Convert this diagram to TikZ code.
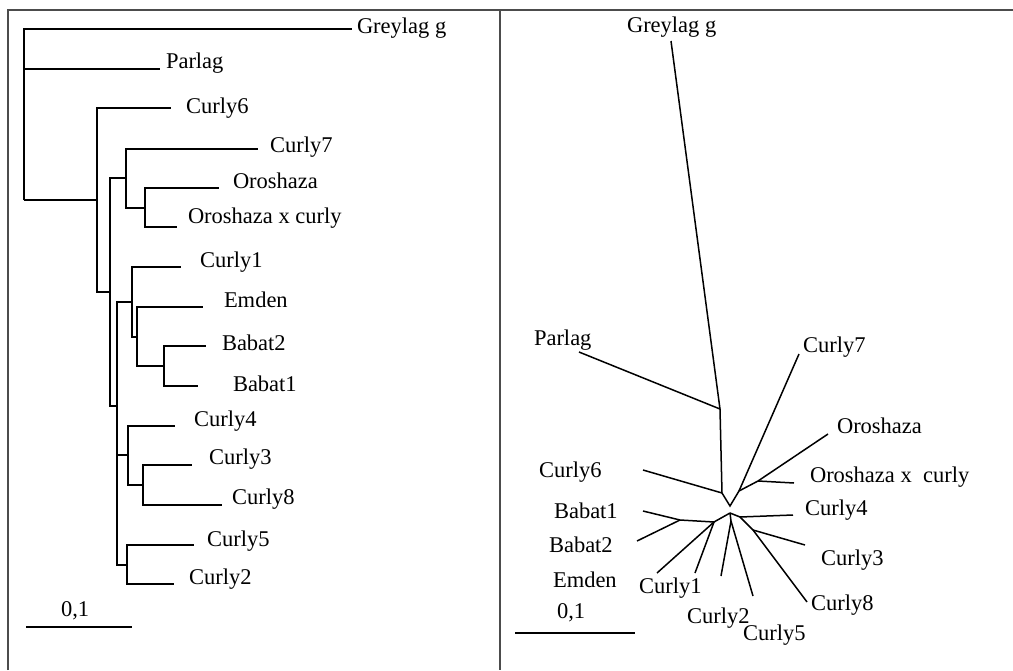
\documentclass[tikz,border=0pt]{standalone}
\usepackage{fontspec}
\setmainfont{Liberation Serif}
\begin{document}
\begin{tikzpicture}[x=1pt,y=-1pt,
  br/.style={line width=1.5pt, black, line join=miter},
  frm/.style={line width=1.8pt, draw=black!70},
  lab/.style={anchor=base west, inner sep=0pt, outer sep=0pt, font=\fontsize{22.5}{27}\selectfont}]
\useasboundingbox (0,0) rectangle (1013,670);
% frame
\coordinate (fbl) at (8,670); \coordinate (ftl) at (8,10); \coordinate (ftr) at (1013,10);
\coordinate (dtop) at (500,10); \coordinate (dbot) at (500,670);
\draw[frm] (fbl) -- (ftl) -- (ftr);
\draw[frm] (dtop) -- (dbot);

% ===== left tree =====
\coordinate (R) at (24,200);
\coordinate (tGG) at (352,29);  \coordinate (tPL) at (160,69);
\coordinate (n1) at (97,200);   \coordinate (tC6) at (171,108);
\coordinate (n2) at (110,292);
\coordinate (n3) at (126,178);  \coordinate (tC7) at (258,149);
\coordinate (n4) at (145,208);  \coordinate (tOR) at (219,188); \coordinate (tOX) at (177,227);
\coordinate (n5) at (117,406);
\coordinate (n6) at (132,302);  \coordinate (tC1) at (181,267);
\coordinate (n7) at (137,337);  \coordinate (tEM) at (203,307);
\coordinate (n8) at (164,366);  \coordinate (tB2) at (206,346); \coordinate (tB1) at (198,386);
\coordinate (n9) at (128,455);  \coordinate (tC4) at (175,426);
\coordinate (n10) at (143,485); \coordinate (tC3) at (192,465); \coordinate (tC8) at (222,505);
\coordinate (n11) at (127,565); \coordinate (tC5) at (194,545); \coordinate (tC2) at (174,584);
\coordinate (sbL1) at (26,627); \coordinate (sbL2) at (132,627);

\draw[br] (R) |- (tGG);
\draw[br] (R) |- (tPL);
\draw[br] (R) -- (n1);
\draw[br] (n1) |- (tC6);
\draw[br] (n1) |- (n2);
\draw[br] (n2) |- (n3);
\draw[br] (n2) |- (n5);
\draw[br] (n3) |- (tC7);
\draw[br] (n3) |- (n4);
\draw[br] (n4) |- (tOR);
\draw[br] (n4) |- (tOX);
\draw[br] (n5) |- (n6);
\draw[br] (n5) |- (n9);
\draw[br] (n5) |- (n11);
\draw[br] (n6) |- (tC1);
\draw[br] (n6) |- (n7);
\draw[br] (n7) |- (tEM);
\draw[br] (n7) |- (n8);
\draw[br] (n8) |- (tB2);
\draw[br] (n8) |- (tB1);
\draw[br] (n9) |- (tC4);
\draw[br] (n9) |- (n10);
\draw[br] (n10) |- (tC3);
\draw[br] (n10) |- (tC8);
\draw[br] (n11) |- (tC5);
\draw[br] (n11) |- (tC2);
\draw[br] (sbL1) -- (sbL2);

\node[lab] (lGG) at (357,33) {Greylag g};
\node[lab] (lPL) at (166,68) {Parlag};
\node[lab] (lC6) at (186,113) {Curly6};
\node[lab] (lC7) at (270,152) {Curly7};
\node[lab] (lOR) at (233,188) {Oroshaza};
\node[lab] (lOX) at (188,223) {Oroshaza x curly};
\node[lab] (lC1) at (200,267) {Curly1};
\node[lab] (lEM) at (224,307) {Emden};
\node[lab] (lB2) at (222,350) {Babat2};
\node[lab] (lB1) at (233,391) {Babat1};
\node[lab] (lC4) at (194,426) {Curly4};
\node[lab] (lC3) at (209,464) {Curly3};
\node[lab] (lC8) at (232,504) {Curly8};
\node[lab] (lC5) at (207,546) {Curly5};
\node[lab] (lC2) at (189,584) {Curly2};
\node[lab] (lSL) at (61,616) {0,1};

% ===== right tree (unrooted) =====
\coordinate (uGG) at (671,41);
\coordinate (P1) at (720,409);  \coordinate (uPL) at (579,352);
\coordinate (P2) at (722,493);  \coordinate (uC6) at (643,470);
\coordinate (V) at (730,506);
\coordinate (P3) at (739,491);  \coordinate (uC7) at (799,354);
\coordinate (P4) at (758,481);  \coordinate (uOR) at (828,434); \coordinate (uOX) at (794,483);
\coordinate (A) at (730,513);
\coordinate (B) at (740,517);   \coordinate (uC4) at (793,515);
\coordinate (Cn) at (753,530);  \coordinate (uC3) at (805,545); \coordinate (uC8) at (807,602);
\coordinate (D) at (731,521);   \coordinate (uC5) at (753,596); \coordinate (uC2) at (721,576);
\coordinate (E) at (714,522);   \coordinate (uC1) at (657,573); \coordinate (uEM) at (695,573);
\coordinate (G) at (680,520);   \coordinate (uB1) at (643,511); \coordinate (uB2) at (637,541);
\coordinate (sbR1) at (515,633); \coordinate (sbR2) at (635,633);

\draw[br] (uGG) -- (P1) -- (P2) -- (V) -- (P3) -- (P4) -- (uOR);
\draw[br] (P1) -- (uPL);
\draw[br] (P2) -- (uC6);
\draw[br] (P3) -- (uC7);
\draw[br] (P4) -- (uOX);
\draw[br] (A) -- (B) -- (Cn) -- (uC8);
\draw[br] (B) -- (uC4);
\draw[br] (Cn) -- (uC3);
\draw[br] (A) -- (D);
\draw[br] (D) -- (uC5);
\draw[br] (D) -- (uC2);
\draw[br] (A) -- (E) -- (G);
\draw[br] (E) -- (uC1);
\draw[br] (E) -- (uEM);
\draw[br] (G) -- (uB1);
\draw[br] (G) -- (uB2);
\draw[br] (sbR1) -- (sbR2);

\node[lab] (rGG) at (627,32) {Greylag g};
\node[lab] (rPL) at (534,345) {Parlag};
\node[lab] (rC7) at (803,352) {Curly7};
\node[lab] (rOR) at (837,433) {Oroshaza};
\node[lab] (rC6) at (539,477) {Curly6};
\node[lab] (rOX) at (810,482) {Oroshaza x\ \ curly};
\node[lab] (rB1) at (554,518) {Babat1};
\node[lab] (rC4) at (805,515) {Curly4};
\node[lab] (rB2) at (549,552) {Babat2};
\node[lab] (rC3) at (821,565) {Curly3};
\node[lab] (rEM) at (553,587) {Emden};
\node[lab] (rC1) at (639,593) {Curly1};
\node[lab] (rC8) at (811,610) {Curly8};
\node[lab] (rSL) at (557,618) {0,1};
\node[lab] (rC2) at (687,623) {Curly2};
\node[lab] (rC5) at (743,640) {Curly5};
\end{tikzpicture}
\end{document}
